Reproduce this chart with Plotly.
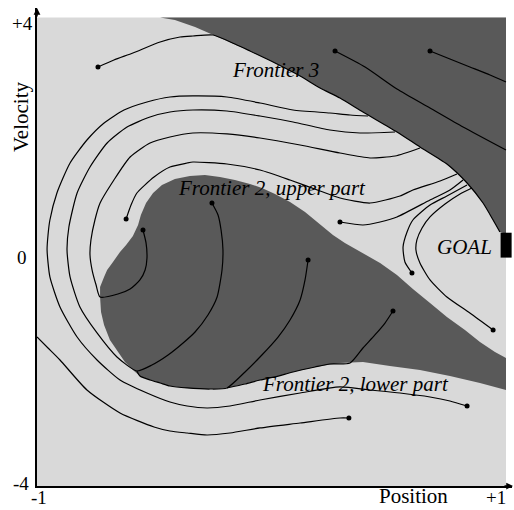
import plotly.graph_objects as go

# ---------------------------------------------------------------
# Car-on-the-hill state space: position in [-1, 1], velocity in [-4, 4]
# ---------------------------------------------------------------

# Dark region above "Frontier 3" (top right)
frontier3_x = [-0.475, -0.412, -0.326, -0.249, -0.156, -0.092, 0.015, 0.122, 0.207, 0.292,
               0.390, 0.535, 0.633, 0.748, 0.834, 0.902, 0.945, 0.974, 1.0, 1.0]
frontier3_y = [4.0, 3.957, 3.838, 3.701, 3.547, 3.428, 3.223, 3.001, 2.796, 2.625,
               2.386, 2.045, 1.789, 1.498, 1.174, 0.832, 0.542, 0.337, 0.303, 4.0]

# Dark region enclosed by "Frontier 2" (upper part, then lower part)
frontier2_x = [-0.731, -0.731, -0.714, -0.701, -0.676, -0.646, -0.620, -0.591, -0.569, -0.557,
               -0.535, -0.505, -0.467, -0.412, -0.348, -0.284, -0.220, -0.156, -0.092, -0.041,
               0.015, 0.079, 0.143, 0.207, 0.262, 0.313, 0.390, 0.463, 0.535, 0.603,
               0.676, 0.748, 0.825, 0.889, 0.953, 1.0, 1.0,
               0.889, 0.761, 0.633, 0.505, 0.390, 0.292, 0.186, 0.092, 0.015,
               -0.049, -0.134, -0.220, -0.305, -0.360, -0.433, -0.475, -0.518, -0.561, -0.591,
               -0.625, -0.655, -0.689, -0.714, -0.727]
frontier2_y = [-0.773, -0.602, -0.431, -0.312, -0.175, -0.004, 0.115, 0.269, 0.457, 0.628,
               0.832, 1.003, 1.140, 1.242, 1.294, 1.311, 1.276, 1.225, 1.157, 1.089,
               0.986, 0.849, 0.679, 0.474, 0.286, 0.150, -0.021, -0.192, -0.397, -0.636,
               -0.875, -1.114, -1.336, -1.541, -1.712, -1.814, -2.361,
               -2.241, -2.121, -2.019, -1.951, -1.883, -1.900, -1.968, -2.053, -2.138,
               -2.190, -2.275, -2.344, -2.344, -2.326, -2.292, -2.241, -2.190, -2.121, -2.019,
               -1.883, -1.712, -1.507, -1.251, -1.029]

# Goal area at the right end of the track
goal_x = [0.977, 1.024]
goal_y = [-0.10, 0.325]

# Trajectories (each one starts at its first point)
path_top_x = [-0.740, -0.672, -0.591, -0.475, -0.390, -0.335, -0.249, -0.156, -0.092, 0.015,
              0.122, 0.207, 0.292, 0.390, 0.535, 0.633, 0.748, 0.834, 0.902, 0.945, 0.974]
path_top_y = [3.155, 3.274, 3.394, 3.582, 3.667, 3.684, 3.701, 3.547, 3.428, 3.223,
              3.001, 2.796, 2.625, 2.386, 2.045, 1.789, 1.498, 1.174, 0.832, 0.542, 0.337]

path_outer_x = [0.834, 0.761, 0.676, 0.548, 0.420, 0.292, 0.122, -0.049, -0.177, -0.275,
                -0.360, -0.433, -0.531, -0.646, -0.744, -0.829, -0.902, -0.945, -0.957, -0.953,
                -0.945, -0.915, -0.859, -0.787, -0.714, -0.629, -0.531, -0.433, -0.335, -0.190,
                -0.049, 0.092, 0.249, 0.335, 0.412]
path_outer_y = [-2.634, -2.548, -2.480, -2.412, -2.361, -2.309, -2.412, -2.531, -2.634, -2.668,
                -2.634, -2.566, -2.412, -2.190, -1.848, -1.456, -0.943, -0.431, 0.030, 0.286,
                0.542, 1.003, 1.515, 1.908, 2.199, 2.420, 2.557, 2.642, 2.660, 2.642,
                2.540, 2.420, 2.369, 2.335, 2.318]

path_mid_x = [-0.254, -0.228, -0.215, -0.207, -0.211, -0.232, -0.271, -0.326, -0.377, -0.441,
              -0.510, -0.574, -0.659, -0.744, -0.817, -0.859, -0.872, -0.864, -0.829, -0.774,
              -0.701, -0.616, -0.518, -0.433, -0.335, -0.190, -0.049, 0.092, 0.249, 0.377, 0.527]
path_mid_y = [0.832, 0.628, 0.371, 0.030, -0.312, -0.773, -1.080, -1.370, -1.558, -1.763,
              -1.934, -2.036, -1.797, -1.387, -0.943, -0.431, 0.030, 0.423, 1.003, 1.447,
              1.857, 2.130, 2.301, 2.386, 2.420, 2.403, 2.318, 2.216, 2.079, 2.028, 2.045]

path_inner_x = [-0.548, -0.535, -0.531, -0.539, -0.561, -0.603, -0.655, -0.731, -0.748, -0.765,
                -0.774, -0.770, -0.753, -0.731, -0.672, -0.603, -0.518, -0.433, -0.335, -0.190,
                -0.049, 0.122, 0.292, 0.420, 0.527, 0.633]
path_inner_y = [0.371, 0.150, -0.106, -0.312, -0.482, -0.636, -0.722, -0.773, -0.568, -0.312,
                -0.055, 0.201, 0.542, 0.832, 1.225, 1.618, 1.857, 1.959, 2.028, 2.011,
                1.942, 1.823, 1.686, 1.601, 1.635, 1.772]

path_upper_x = [-0.620, -0.599, -0.574, -0.501, -0.433, -0.360, -0.335, -0.190, -0.049, 0.079,
                0.207, 0.292, 0.420, 0.548, 0.603, 0.719, 0.791]
path_upper_y = [0.559, 0.798, 1.003, 1.276, 1.447, 1.515, 1.532, 1.498, 1.396, 1.225,
                1.037, 0.918, 0.832, 0.952, 1.054, 1.208, 1.328]

path_centre_x = [0.292, 0.390, 0.463, 0.535, 0.676, 0.761, 0.817]
path_centre_y = [0.508, 0.457, 0.508, 0.594, 0.884, 1.054, 1.225]

path_goal_near_x = [0.599, 0.569, 0.561, 0.578, 0.603, 0.676, 0.748, 0.834]
path_goal_near_y = [-0.363, -0.175, 0.081, 0.337, 0.542, 0.798, 0.952, 1.140]

path_goal_far_x = [0.945, 0.846, 0.748, 0.676, 0.633, 0.616, 0.620, 0.642, 0.676, 0.740, 0.804, 0.855]
path_goal_far_y = [-1.336, -1.046, -0.773, -0.482, -0.192, 0.030, 0.201, 0.406, 0.594, 0.815, 0.986, 1.089]

path_fast_a_x = [0.271, 0.399, 0.535, 0.676, 0.817, 1.0]
path_fast_a_y = [3.428, 3.155, 2.779, 2.455, 2.130, 1.737]

path_fast_b_x = [0.676, 0.761, 0.846, 0.932, 1.0]
path_fast_b_y = [3.428, 3.291, 3.155, 3.018, 2.899]

path_fall_a_x = [0.518, 0.484, 0.441, 0.390, 0.335, 0.249, 0.186, 0.092, 0.015, -0.049, -0.113, -0.190]
path_fall_a_y = [-1.012, -1.217, -1.421, -1.644, -1.900, -1.917, -1.968, -2.053, -2.138, -2.190, -2.258, -2.326]

path_fall_b_x = [0.156, 0.143, 0.122, 0.079, 0.028, -0.041, -0.113, -0.190, -0.262, -0.360,
                 -0.433, -0.475, -0.518, -0.561, -0.574]
path_fall_b_y = [-0.141, -0.482, -0.824, -1.165, -1.456, -1.763, -2.053, -2.326, -2.344, -2.326,
                 -2.292, -2.241, -2.190, -2.121, -2.036]

path_escape_x = [0.330, 0.292, 0.122, -0.049, -0.177, -0.275, -0.360, -0.433, -0.501, -0.646,
                 -0.787, -0.902, -0.953, -1.0]
path_escape_y = [-2.839, -2.839, -2.924, -3.009, -3.095, -3.129, -3.095, -3.061, -2.992, -2.754,
                 -2.361, -1.848, -1.644, -1.456]

paths = [
    (path_top_x, path_top_y), (path_outer_x, path_outer_y), (path_mid_x, path_mid_y),
    (path_inner_x, path_inner_y), (path_upper_x, path_upper_y), (path_centre_x, path_centre_y),
    (path_goal_near_x, path_goal_near_y), (path_goal_far_x, path_goal_far_y),
    (path_fast_a_x, path_fast_a_y), (path_fast_b_x, path_fast_b_y),
    (path_fall_a_x, path_fall_a_y), (path_fall_b_x, path_fall_b_y),
    (path_escape_x, path_escape_y),
]

LIGHT = "#d9d9d9"
DARK = "#595959"
SERIF = "Liberation Serif, Times New Roman, serif"

fig = go.Figure()

for fx, fy in [(frontier3_x, frontier3_y), (frontier2_x, frontier2_y)]:
    fig.add_trace(go.Scatter(x=fx, y=fy, mode="lines", fill="toself", fillcolor=DARK,
                             line=dict(width=0, color=DARK), hoverinfo="skip", showlegend=False))

for px, py in paths:
    fig.add_trace(go.Scatter(x=px, y=py, mode="lines",
                             line=dict(color="black", width=1.2, shape="spline", smoothing=0.6),
                             hoverinfo="skip", showlegend=False))

fig.add_trace(go.Scatter(x=[p[0][0] for p in paths], y=[p[1][0] for p in paths], mode="markers",
                         marker=dict(color="black", size=5), hoverinfo="skip", showlegend=False))

# Plot geometry: the state box [-1,1]x[-4,4] sits inside a slightly larger frame
W, H = 514, 510
ML, MR, MT, MB = 37, 2, 8, 24
fig.update_layout(
    width=W, height=H,
    margin=dict(l=ML, r=MR, t=MT, b=MB),
    paper_bgcolor="white", plot_bgcolor="white",
    showlegend=False,
    xaxis=dict(range=[-1, 1.0256], showgrid=False, zeroline=False, showticklabels=False,
               ticks="", showline=True, linecolor="black", linewidth=1.5, fixedrange=True),
    yaxis=dict(range=[-4, 4.162], showgrid=False, zeroline=False, showticklabels=False,
               ticks="", showline=True, linecolor="black", linewidth=1.5, fixedrange=True),
    shapes=[
        dict(type="rect", xref="x", yref="y", x0=-1, x1=1, y0=-4, y1=4,
             fillcolor=LIGHT, line=dict(width=0), layer="below"),
        dict(type="rect", xref="x", yref="y", x0=goal_x[0], x1=goal_x[1], y0=goal_y[0], y1=goal_y[1],
             fillcolor="black", line=dict(width=0), layer="above"),
    ],
)

pw, ph = W - ML - MR, H - MT - MB


def paper(px, py):
    return (px - ML) / pw, (H - MB - py) / ph


ann = []
# axis arrowheads
ax_tip = paper(513, 486)
ann.append(dict(x=ax_tip[0], y=ax_tip[1], xref="paper", yref="paper", ax=-10, ay=0,
                showarrow=True, arrowhead=2, arrowsize=0.9, arrowwidth=1.5, arrowcolor="black",
                text="", standoff=0))
ay_tip = paper(37, 8)
ann.append(dict(x=ay_tip[0], y=ay_tip[1], xref="paper", yref="paper", ax=0, ay=10,
                showarrow=True, arrowhead=2, arrowsize=0.9, arrowwidth=1.5, arrowcolor="black",
                text="", standoff=0))

# tick labels on the left
for txt, px, py in [("+4", 22, 23), ("0", 22, 257), ("-4", 21, 483)]:
    x, y = paper(px, py)
    ann.append(dict(x=x, y=y, xref="paper", yref="paper", text=txt, showarrow=False,
                    xanchor="center", yanchor="middle", font=dict(family=SERIF, size=19, color="black")))

# bottom row: tick labels and the position title, kept inside the page
for txt, px, fs in [("-1", 39, 19), ("+1", 496, 19), ("Position", 413, 21)]:
    x, y = paper(px, 509.5)
    ann.append(dict(x=x, y=y, xref="paper", yref="paper", text=txt, showarrow=False,
                    xanchor="center", yanchor="bottom", borderpad=0,
                    font=dict(family=SERIF, size=fs, color="black")))

vx, vy = paper(21, 117)
ann.append(dict(x=vx, y=vy, xref="paper", yref="paper", text="Velocity", textangle=-90,
                showarrow=False, xanchor="center", yanchor="middle",
                font=dict(family=SERIF, size=21, color="black")))

# region labels
labels = [("Frontier 3", 0.019, 3.104), ("Frontier 2, upper part", 0.0, 1.089),
          ("GOAL", 0.825, 0.081), ("Frontier 2, lower part", 0.360, -2.258)]
for txt, x, y in labels:
    ann.append(dict(x=x, y=y, xref="x", yref="y", text="<i>" + txt + "</i>", showarrow=False,
                    xanchor="center", yanchor="middle", font=dict(family=SERIF, size=21, color="black")))

fig.update_layout(annotations=ann)
fig.write_html("out.html")
